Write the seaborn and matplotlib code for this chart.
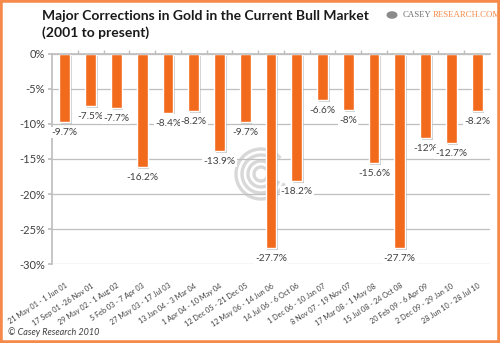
import matplotlib
matplotlib.use("Agg")
import matplotlib.pyplot as plt
import matplotlib.patheffects as pe
from matplotlib.patches import Rectangle, Arc, Circle
from matplotlib.ticker import FixedLocator, FuncFormatter
import seaborn as sns
import pandas as pd

periods = [
    "21 May 01 - 1 Jun 01", "17 Sep 01 -26 Nov 01", "29 May 02 - 1 Aug 02",
    "5 Feb 03 - 7 Apr 03", "27 May 03 - 17 Jul 03", "13 Jan 04 - 3 Mar 04",
    "1 Apr 04 - 10 May 04", "12 Dec 05 - 21 Dec 05", "12 May 06 - 14 Jun 06",
    "14 Jul 06 - 6 Oct 06", "1 Dec 06 - 10 Jan 07", "8 Nov 07 - 19 Nov 07",
    "17 Mar 08 - 1 May 08", "15 Jul 08 - 24 Oct 08", "20 Feb 09 - 6 Apr 09",
    "2 Dec 09 - 29 Jan 10", "28 Jun 10 - 28 Jul 10",
]
corrections = [-9.7, -7.5, -7.7, -16.2, -8.4, -8.2, -13.9, -9.7, -27.7,
               -18.2, -6.6, -8, -15.6, -27.7, -12, -12.7, -8.2]
value_labels = ["-9.7%", "-7.5%", "-7.7%", "-16.2%", "-8.4%", "-8.2%", "-13.9%",
                "-9.7%", "-27.7%", "-18.2%", "-6.6%", "-8%", "-15.6%", "-27.7%",
                "-12%", "-12.7%", "-8.2%"]
y_ticks = [0, -5, -10, -15, -20, -25, -30]

title = "Major Corrections in Gold in the Current Bull Market\n(2001 to present)"

ORANGE = "#F26B1D"
BORDER = "#F58A4A"
GRID = "#BFBFBF"
TXT = "#404040"

sns.set_theme(style="white")
plt.rcParams["font.family"] = ["Lato", "DejaVu Sans"]

df = pd.DataFrame({"period": periods, "value": corrections})

fig = plt.figure(figsize=(5.0, 3.43), dpi=100)
ax = fig.add_axes([0.104, 0.2303, 0.876, 0.6123])

# watermark spiral (behind bars)
cx, cy = 261 / 500, 1 - 174 / 343
for r in [7, 13, 19, 25]:
    ax.add_patch(Arc((cx, cy), 2 * r / 500, 2 * r / 343, theta1=50, theta2=330,
                     transform=fig.transFigure, color="#D8D8D8", lw=2.4, zorder=0.5))

sns.barplot(data=df, x="period", y="value", color=ORANGE, width=0.42,
            saturation=1, ax=ax, zorder=2)
for p in ax.patches:
    if isinstance(p, Rectangle):
        p.set_path_effects([pe.SimplePatchShadow(offset=(1.2, -1.2), shadow_rgbFace="#999999", alpha=0.5),
                            pe.Normal()])

ax.set_ylim(-30, 0)
ax.set_xlim(-0.5, len(periods) - 0.5)
ax.yaxis.set_major_locator(FixedLocator(y_ticks))
ax.yaxis.set_major_formatter(FuncFormatter(lambda v, _: f"{v:.0f}%"))
ax.grid(axis="y", color=GRID, lw=0.9, zorder=0)
ax.set_axisbelow(True)
ax.set_xlabel("")
ax.set_ylabel("")

for s in ["right", "bottom"]:
    ax.spines[s].set_visible(False)
ax.spines["left"].set_color(GRID)
ax.spines["top"].set_color(GRID)

ax.tick_params(axis="y", left=True, length=3, color=GRID, labelsize=8, labelcolor=TXT, pad=2)
ax.set_xticks(range(len(periods)))
ax.set_xticklabels(periods, rotation=33, ha="right", rotation_mode="anchor",
                   fontsize=5.2, color=TXT)
ax.tick_params(axis="x", which="major", bottom=False, pad=7)
ax.set_xticks([i + 0.5 for i in range(len(periods) - 1)], minor=True)
ax.tick_params(axis="x", which="minor", top=True, bottom=False, length=3,
               direction="out", color=GRID)

for i, (v, lab) in enumerate(zip(corrections, value_labels)):
    ax.annotate(lab, (i, v), xytext=(0, -7.5), textcoords="offset points",
                ha="center", va="center", fontsize=7.3, color=TXT, zorder=5,
                bbox=dict(boxstyle="square,pad=0.1", fc="white", ec="none"))

fig.text(42 / 500, 1 - 10 / 343, title, ha="left", va="top", fontsize=10,
         fontweight="bold", color="#1a1a1a", linespacing=1.45)

# logo
fig.patches.append(Circle((392 / 500, 1 - 15 / 343), 5.5 / 500, transform=fig.transFigure,
                          fc="#8a8a8a", ec="none"))
fig.text(431 / 500, 1 - 15 / 343, "CASEY", ha="right", va="center", fontsize=6.3,
         family="Liberation Serif", color="#707070")
fig.text(433 / 500, 1 - 15 / 343, "RESEARCH.COM", ha="left", va="center", fontsize=6.3,
         family="Liberation Serif", color=BORDER)

fig.text(8 / 500, 1 - 332 / 343, "© Casey Research 2010", ha="left", va="center",
         fontsize=6.5, style="italic", color=TXT)

fig.patches.append(Rectangle((0, 0), 1, 1, transform=fig.transFigure, fill=False,
                             ec=BORDER, lw=4, zorder=10))

fig.savefig("out.png", dpi=100, facecolor="white")
